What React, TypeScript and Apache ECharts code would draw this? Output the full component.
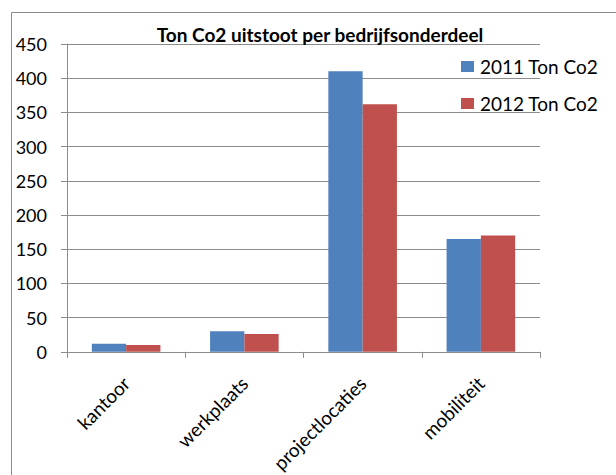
import React, { useEffect, useRef } from "react";
import * as echarts from "echarts";

const categories = ["kantoor", "werkplaats", "projectlocaties", "mobiliteit"];
const series2011 = [12, 30, 410, 165];
const series2012 = [10, 26, 362, 170];
const seriesNames = ["2011 Ton Co2", "2012 Ton Co2"];
const titleText = "Ton Co2 uitstoot per bedrijfsonderdeel";

export default function App() {
  const ref = useRef<HTMLDivElement>(null);
  useEffect(() => {
    const chart = echarts.init(ref.current!, null, { renderer: "svg" });
    const font = "Lato, 'Open Sans', sans-serif";
    chart.setOption({
      animation: false,
      backgroundColor: "#fff",
      textStyle: { fontFamily: font },
      title: {
        text: titleText,
        left: 315,
        textAlign: "center",
        top: 20,
        textStyle: { fontSize: 19, fontWeight: "bold", color: "#000", fontFamily: font },
      },
      legend: {
        orient: "vertical",
        left: 456,
        top: 52,
        itemGap: 18,
        itemWidth: 13,
        itemHeight: 11,
        icon: "rect",
        textStyle: { fontSize: 19, color: "#000", fontFamily: font, padding: [0, 0, 0, 1] },
        data: seriesNames,
      },
      graphic: [
        {
          type: "rect",
          shape: { x: 11.5, y: 12.5, width: 700, height: 500 },
          style: { fill: "none", stroke: "#8c8c8c", lineWidth: 1 },
          silent: true,
        },
      ],
      grid: { left: 67, right: 76, top: 44, bottom: 118, containLabel: false },
      xAxis: {
        type: "category",
        data: categories,
        axisLine: { lineStyle: { color: "#8c8c8c" } },
        axisTick: { show: true, length: 6, lineStyle: { color: "#8c8c8c" } },
        axisLabel: { rotate: 45, fontSize: 19, color: "#000", margin: 28, fontFamily: font },
      },
      yAxis: {
        type: "value",
        min: 0,
        max: 450,
        interval: 50,
        axisLine: { show: true, lineStyle: { color: "#8c8c8c" } },
        axisTick: { show: true, length: 6, lineStyle: { color: "#8c8c8c" } },
        splitLine: { lineStyle: { color: "#8c8c8c" } },
        axisLabel: { fontSize: 18, color: "#000", margin: 20, fontFamily: font },
      },
      series: [
        {
          name: seriesNames[0],
          type: "bar",
          data: series2011,
          itemStyle: { color: "#4F81BD" },
          barGap: "0%",
          barCategoryGap: "42%",
        },
        {
          name: seriesNames[1],
          type: "bar",
          data: series2012,
          itemStyle: { color: "#C0504D" },
          barGap: "0%",
          barCategoryGap: "42%",
        },
      ],
    });
    return () => chart.dispose();
  }, []);
  return (
    <div
      ref={ref}
      style={{ position: "absolute", left: 0, top: 0, width: 616, height: 475 }}
    />
  );
}
